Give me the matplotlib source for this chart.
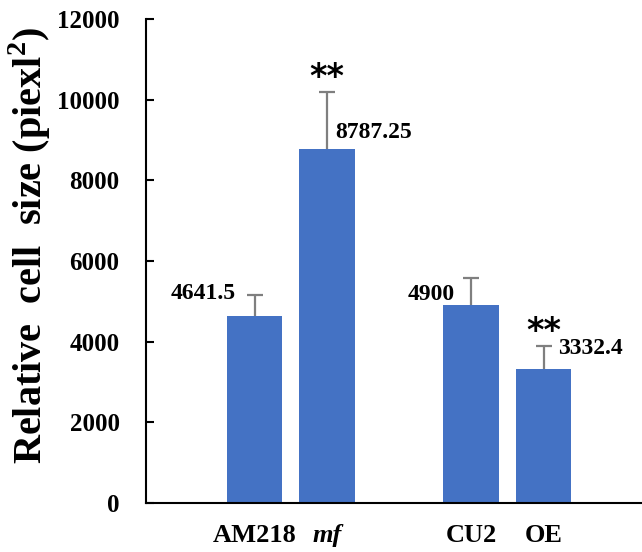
import matplotlib
matplotlib.use("Agg")
import matplotlib.pyplot as plt

plt.rcParams['font.family'] = ['Liberation Serif', 'DejaVu Serif']
plt.rcParams['font.weight'] = 'bold'
plt.rcParams['mathtext.fontset'] = 'custom'
plt.rcParams['mathtext.rm'] = 'Liberation Serif:bold'

# data
groups = ["AM218", "mf", "CU2", "OE"]
positions = [0, 1, 3, 4]
values = [4641.5, 8787.25, 4900, 3332.4]
errors = [515, 1405, 685, 555]
value_text = ["4641.5", "8787.25", "4900", "3332.4"]
stars = ["", "**", "", "**"]
yticks = [0, 2000, 4000, 6000, 8000, 10000, 12000]

# label offsets in pixels from bar top (dx, dy)
label_off = [(-51, 22), (47, 16), (-40, 11), (47, 20)]

fig = plt.figure(figsize=(6.42, 5.52), dpi=100)
ax = fig.add_axes([0.2274, 0.0888, 0.7726, 0.8768])

ax.bar(positions, values, width=0.77, color="#4472C4", zorder=2)
tops = [v + e for v, e in zip(values, errors)]
ax.vlines(positions, values, tops, color="#7f7f7f", linewidth=1.6, zorder=3)
ax.plot(positions, tops, linestyle='none', marker='_', markersize=11,
        markeredgewidth=1.6, color="#7f7f7f", zorder=3)

for x, v, t, (dx, dy) in zip(positions, values, value_text, label_off):
    ax.annotate(t, xy=(x, v), xytext=(dx, dy), textcoords='offset pixels',
                ha='center', va='center', fontsize=17, fontweight='bold')

for x, top, s in zip(positions, tops, stars):
    if s:
        ax.annotate(s, xy=(x, top), xytext=(0, -2), textcoords='offset pixels',
                    ha='center', va='bottom', fontsize=24, fontweight='bold',
                    family='DejaVu Sans')

ax.set_xlim(-1.502, 5.363)
ax.set_ylim(0, 12000)
ax.set_yticks(yticks)
ax.set_yticklabels([str(t) for t in yticks], fontsize=18, fontweight='bold')
ax.set_xticks(positions)
ax.set_xticklabels(groups, fontsize=19, fontweight='bold')
ax.get_xticklabels()[1].set_fontstyle('italic')
ax.tick_params(axis='x', length=0, pad=15)
ax.tick_params(axis='y', length=6, width=1.5, direction='in', pad=19)

for side in ['top', 'right']:
    ax.spines[side].set_visible(False)
for side in ['left', 'bottom']:
    ax.spines[side].set_linewidth(1.5)

fig.text(0.047, 0.556, "Relative  cell  size (piexl$^{2}$)", rotation=90,
         ha='center', va='center', fontsize=29, fontweight='bold')

fig.savefig("out.png", dpi=100)
